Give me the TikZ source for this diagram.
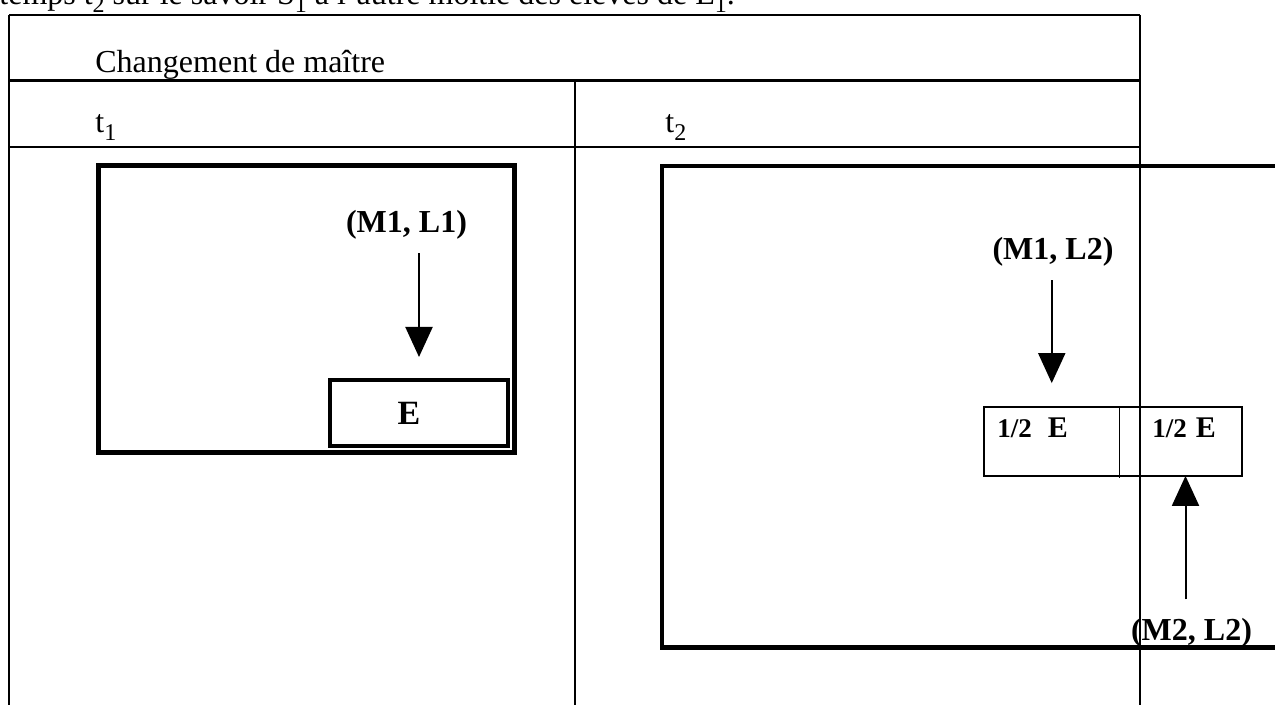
\documentclass[tikz,border=0pt]{standalone}
\usepackage{fontspec}
\setmainfont{Liberation Serif}
\usetikzlibrary{arrows.meta}
\newcommand\mysub[1]{\raisebox{-0.22em}{\fontsize{12}{12}\selectfont #1}}
\begin{document}
\begin{tikzpicture}[x=0.5pt,y=-0.5pt,
  tab/.style={line width=1.3pt},
  tabthin/.style={line width=0.8pt},
  txt/.style={font=\fontsize{16}{19}\selectfont, inner sep=0pt, anchor=base west},
  lbl/.style={font=\bfseries\fontsize{16}{19}\selectfont, inner sep=0pt, anchor=base},
  bigbox/.style={draw, line width=2.3pt},
  ebox/.style={draw, line width=2pt, inner sep=0pt, font=\bfseries\fontsize{17}{20}\selectfont},
  half/.style={inner sep=0pt, minimum height=34pt},
  halftxt/.style={inner sep=0pt, anchor=base west, font=\bfseries},
  arr/.style={line width=1pt, -{Triangle[width=13.5pt,length=15pt]}}
]
\useasboundingbox (0,0) rectangle (1275,705);
% top (cut) text
\node[txt] (toptext) at (-1,5) {temps t\mysub{2} sur le savoir S\mysub{1} à l'autre moitié des élèves de E\mysub{1}.};
% table
\draw[tab] (9,15) -- (1140,15);
\draw[tab] (9,80.5) -- (1140,80.5);
\draw[tab] (9,147) -- (1140,147);
\draw[tab] (9,15) -- (9,705);
\draw[tab] (1140,15) -- (1140,705);
\draw[tabthin] (575,80.5) -- (575,705);
\node[txt] (title) at (95,73) {Changement de maître};
\node[txt] (t1) at (95,133) {t\mysub{1}};
\node[txt] (t2) at (665,133) {t\mysub{2}};
% left scene
\node[bigbox, minimum width=208pt, minimum height=143.5pt, inner sep=0pt] (box1) at (306.5,309) {};
\node[ebox, minimum width=89pt, minimum height=33pt] (ebox) at (419,413) {E\kern10pt};
\node[lbl] (m1l1) at (406.5,233) {(M1, L1)};
\draw[arr, shorten <=6.5pt, shorten >=10.5pt] (m1l1.south -| ebox.north) -- (ebox.north);
% right scene
\draw[bigbox] (1300,166) -- (662,166) -- (662,647.5) -- (1300,647.5);
\node[half, minimum width=67.25pt] (half1) at (1051.75,441.5) {};
\node[half, minimum width=61.25pt] (half2) at (1180.25,441.5) {};
\draw[line width=1.35pt] (half1.north west) rectangle (half2.south east);
\draw[line width=0.85pt] (half1.north east) -- ([yshift=-1.2pt]half1.south east);
\node[halftxt] (h1t) at (997,438) {\fontsize{13.5}{15}\selectfont 1/2\hspace{8pt}\fontsize{15}{17}\selectfont E};
\node[halftxt] (h2t) at (1152,438) {\fontsize{13.5}{15}\selectfont 1/2\hspace{4.5pt}\fontsize{15}{17}\selectfont E};
\node[lbl] (m1l2) at (1053,260) {(M1, L2)};
\draw[arr, shorten <=6.5pt, shorten >=12pt] (m1l2.south -| half1.north) -- (half1.north);
\node[lbl] (m2l2) at (1191.5,640) {(M2, L2)};
\draw[arr, shorten <=9pt] ([xshift=-3pt]m2l2.north) -- ([xshift=-3pt]m2l2.north |- half2.south);
\end{tikzpicture}
\end{document}
